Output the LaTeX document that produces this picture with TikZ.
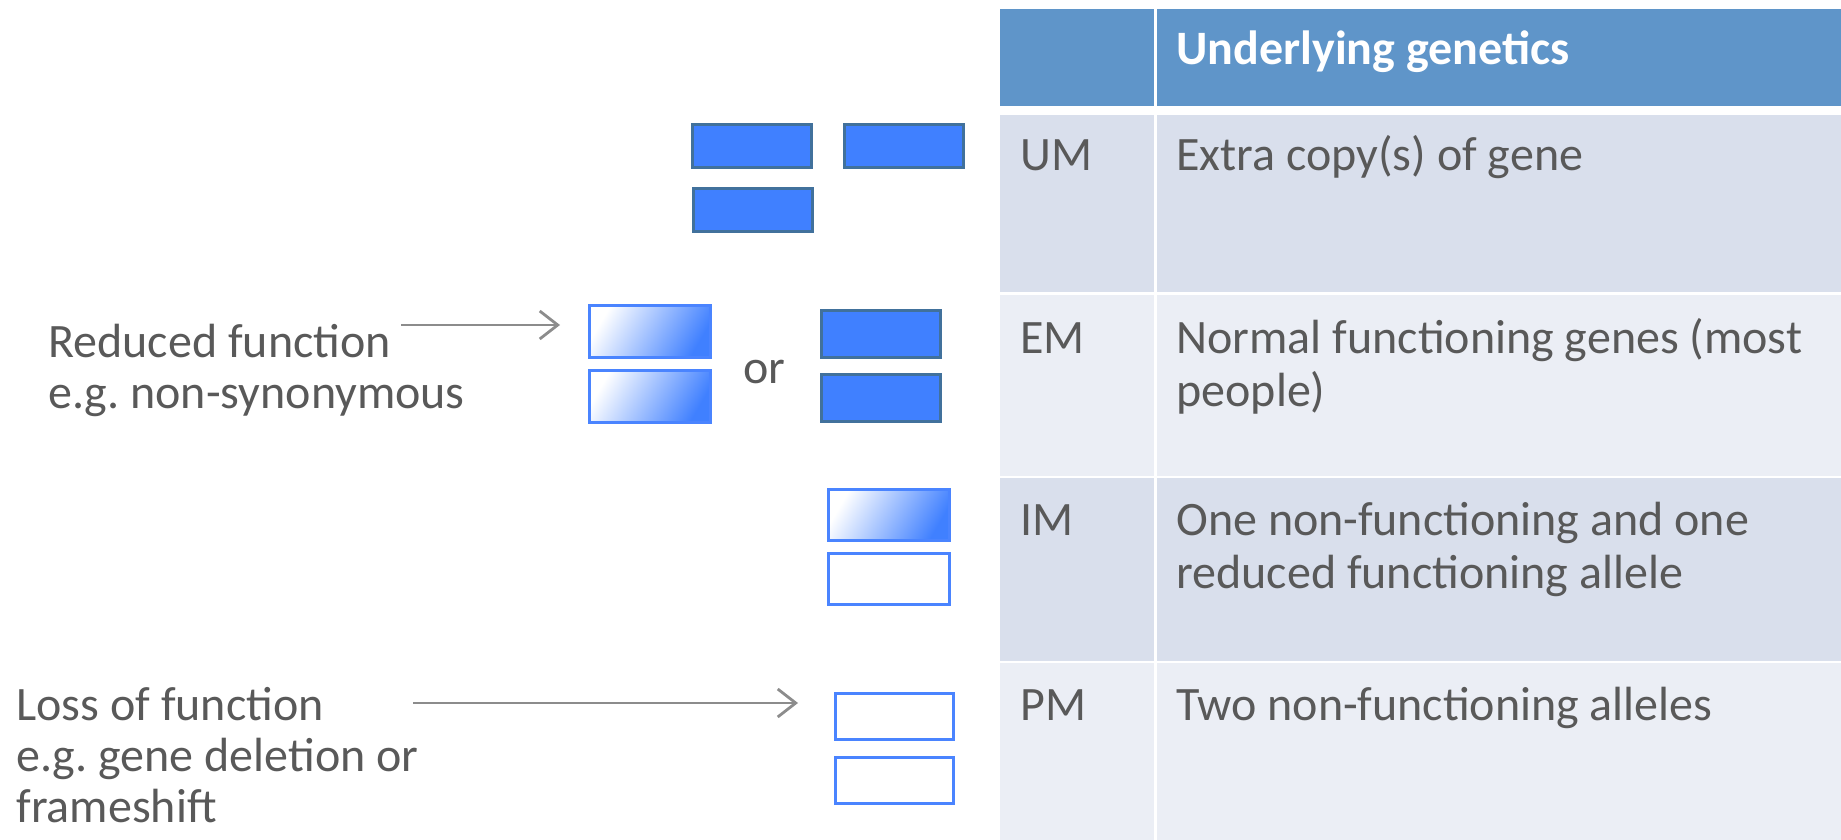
\documentclass[tikz,border=0pt]{standalone}
\usepackage{fontspec}
\setmainfont{Carlito}
\usepackage{xcolor}
\definecolor{HeadBlue}{HTML}{5F95C9}
\definecolor{RowDark}{HTML}{D9DFEC}
\definecolor{RowLight}{HTML}{EBEEF5}
\definecolor{GeneBlue}{HTML}{4080FF}
\definecolor{GeneEdge}{HTML}{41719C}
\definecolor{AlleleEdge}{HTML}{4A84FF}
\definecolor{TextGray}{HTML}{595959}
\definecolor{ArrowGray}{HTML}{8C8C8C}
\usetikzlibrary{arrows.meta,positioning}
\frenchspacing

\begin{document}
\begin{tikzpicture}[
  x=0.5pt,y=-0.5pt,
  every node/.style={font=\fontsize{24}{26.5}\selectfont,text=TextGray,inner sep=0pt,align=left},
  lbl/.style={anchor=base west},
  side/.style={anchor=base west,font=\fontsize{24}{25.5}\selectfont},
  gene/.style={draw=GeneEdge,line width=1.5pt,fill=GeneBlue,minimum width=59.5pt,minimum height=21.5pt},
  weak/.style={draw=AlleleEdge,line width=1.5pt,left color=white,right color=GeneBlue,shading angle=60,minimum width=60.5pt,minimum height=26pt},
  lost/.style={draw=AlleleEdge,line width=1.5pt,fill=white,minimum width=59pt,minimum height=23pt},
  arr/.style={-{Straight Barb[length=9pt,width=14pt]},line width=1.4pt,color=ArrowGray}
]
\useasboundingbox (0,0) rectangle (1841,840);

% table
\fill[HeadBlue] (1000,9) rectangle (1154,106);
\fill[HeadBlue] (1157,9) rectangle (1841,106);
\foreach \top/\bot/\col in {114.7/292/RowDark,295/475.5/RowLight,478/660.7/RowDark,663.3/840/RowLight}{
  \fill[\col] (1000,\top) rectangle (1154,\bot);
  \fill[\col] (1157,\top) rectangle (1841,\bot);
}
\node[lbl,text=white,font=\fontsize{24}{26.5}\selectfont\bfseries] (head) at (1176,65) {Underlying genetics};
\node[lbl] (um) at (1020,170) {UM};
\node[lbl] (umtxt) at (1176,170) {Extra copy(s) of gene};
\node[lbl] (em) at (1020,353) {EM};
\node[lbl] (emtxt) at (1176,406) {Normal functioning genes (most\\people)};
\node[lbl] (im) at (1020,535) {IM};
\node[lbl] (imtxt) at (1176,588) {One non-functioning and one\\reduced functioning allele};
\node[lbl] (pm) at (1020,720) {PM};
\node[lbl] (pmtxt) at (1176,720) {Two non-functioning alleles};

% gene copies
\node[gene] (um1) at (752,146) {};
\node[gene] (um2) at (904,146) {};
\node[gene] (um3) at (753,210) {};
\node[weak] (rf1) at (650,331.5) {};
\node[weak] (rf2) at (650,396) {};
\node[lbl] (or) at (743,383) {or};
\node[gene,minimum height=23.5pt] (em1) at (881,334) {};
\node[gene,minimum height=23.5pt] (em2) at (881,398) {};
\node[weak,minimum height=25.5pt] (im1) at (889,515) {};
\node[lost,minimum width=60.5pt,minimum height=25.5pt] (im2) at (889,579) {};
\node[lost] (pm1) at (894.5,716.5) {};
\node[lost] (pm2) at (894.5,780.5) {};

% mutations
\node[side] (redfn) at (48,408) {Reduced function\\e.g. non-synonymous};
\node[side] (lossfn) at (16,822) {Loss of function\\e.g. gene deletion or\\frameshift};
\coordinate (redtail) at (401,325);
\coordinate (losstail) at (413,703);
\draw[arr,shorten >=14pt] (redtail) -- (redtail -| rf1.west);
\draw[arr,shorten >=18pt] (losstail) -- (losstail -| pm1.west);
\end{tikzpicture}
\end{document}
